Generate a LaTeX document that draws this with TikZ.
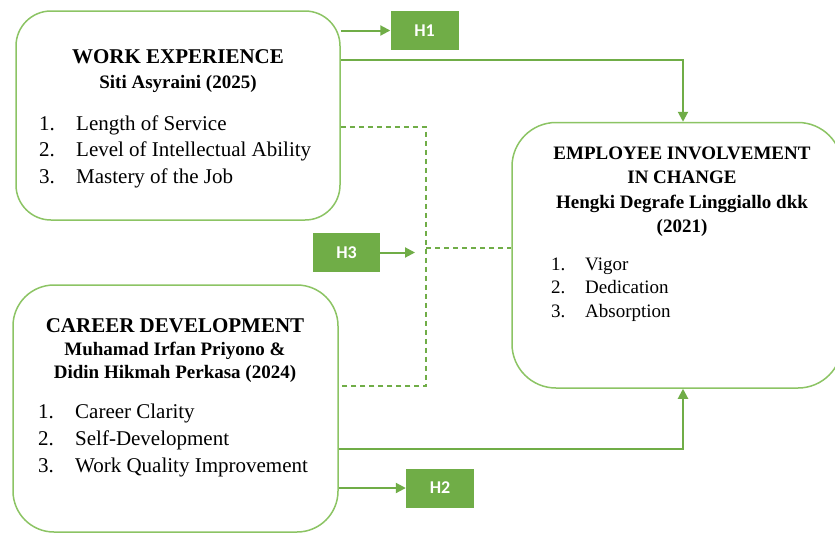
\documentclass[tikz,border=0pt]{standalone}
\usepackage{fontspec}
\setmainfont{Liberation Serif}
\newfontfamily\hfont{Carlito}
\usepackage{xcolor}
\usetikzlibrary{positioning, calc, arrows.meta}
\definecolor{boxgreen}{RGB}{140,196,100}
\definecolor{lngreen}{RGB}{112,173,71}

\begin{document}
\begin{tikzpicture}[x=1pt, y=-1pt,
    varbox/.style={draw=boxgreen, line width=1.5pt, rounded corners=#1,
                   inner sep=0pt},
    hbox/.style={fill=lngreen, minimum width=68pt, minimum height=39pt,
                 inner sep=0pt, text=white,
                 font=\hfont\bfseries\fontsize{18}{21}\selectfont},
    arw/.style={-{Triangle[length=10pt, width=10pt]}, line width=2pt, lngreen},
    dln/.style={dash pattern=on 5pt off 4pt, line width=1.3pt, lngreen},
    ttl/.style={font=\bfseries\fontsize{21}{26}\selectfont, inner sep=0pt,
                anchor=base},
    sub/.style={font=\bfseries\fontsize{19}{23}\selectfont, inner sep=0pt,
                anchor=base},
    itm/.style={inner sep=0pt, anchor=base west},
]
\fill[white] (0,0) rectangle (835,536);
\useasboundingbox (0,0) rectangle (835,536);
\clip (0,0) rectangle (835,536);

% --- Variable boxes ---
\node[varbox=35pt, minimum width=324pt, minimum height=209pt] (work)
    at (178,115.5) {};
\node[varbox=41pt, minimum width=325pt, minimum height=247pt] (career)
    at (175.5,408.5) {};
\node[varbox=44pt, minimum width=330pt, minimum height=265.5pt] (emp)
    at (677,255.25) {};

% Work experience
\node[ttl] (wtitle) at (178,63) {WORK EXPERIENCE};
\node[sub] (wauth) at (178,88) {Siti Asyraini (2025)};
\node[itm, font=\fontsize{21}{26.5}\selectfont] (wlist) at (39,130)
    {\begin{tabular}[t]{@{}p{37pt}@{}l@{}}
     1. & Length of Service\\
     2. & Level of Intellectual Ability\\
     3. & Mastery of the Job
     \end{tabular}};

% Career development
\node[ttl] (ctitle) at (175,332) {CAREER DEVELOPMENT};
\node[sub] (cauth1) at (175,355) {Muhamad Irfan Priyono \&};
\node[sub] (cauth2) at (175,378) {Didin Hikmah Perkasa (2024)};
\node[itm, font=\fontsize{21}{27}\selectfont] (clist) at (38,418)
    {\begin{tabular}[t]{@{}p{37pt}@{}l@{}}
     1. & Career Clarity\\
     2. & Self-Development\\
     3. & Work Quality Improvement
     \end{tabular}};

% Employee involvement
\node[sub] (etitle1) at (682,159) {EMPLOYEE INVOLVEMENT};
\node[sub] (etitle2) at (682,183) {IN CHANGE};
\node[sub] (eauth1) at (682,208) {Hengki Degrafe Linggiallo dkk};
\node[sub] (eauth2) at (682,232) {(2021)};
\node[itm, font=\fontsize{19}{23.5}\selectfont] (elist) at (551,270)
    {\begin{tabular}[t]{@{}p{34pt}@{}l@{}}
     1. & Vigor\\
     2. & Dedication\\
     3. & Absorption
     \end{tabular}};

% --- Hypotheses ---
\node[hbox] (h1) at (424.5,30.5) {H1};
\node[hbox] (h2) at (440,488) {H2};
\node[hbox, minimum width=67pt] (h3) at (346.5,252.5) {H3};

\coordinate (jn) at (426,248);
\coordinate (h3tip) at (415,252.5);

% --- Arrows ---
\draw[arw] (work.east |- h1) -- (h1);
\draw[arw] (career.east |- h2) -- (h2);
\draw[arw] (h3) -- (h3tip);
\draw[arw] (work.east |- 0,60) -| ([xshift=6pt]emp.north);
\draw[arw] (career.east |- 0,449) -| ([xshift=6pt]emp.south);

% simultaneous effect
\draw[dln] (work.east |- 0,127) -| (jn) |- (career.east |- 0,386);
\draw[dln] (jn) -- (jn -| emp.west);
\end{tikzpicture}
\end{document}
